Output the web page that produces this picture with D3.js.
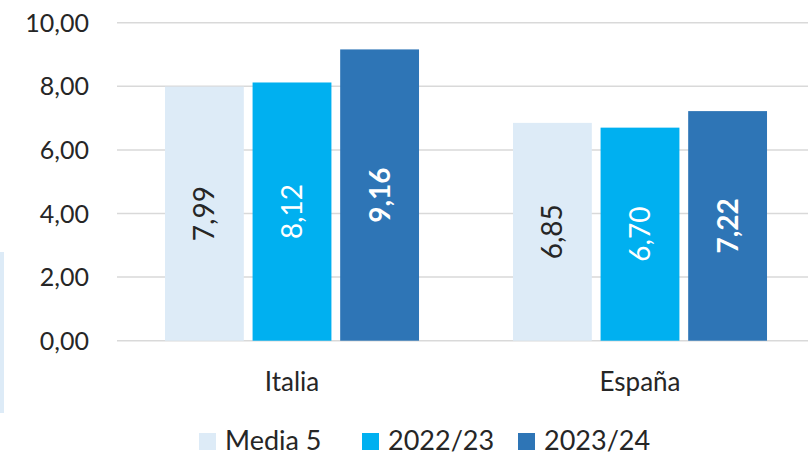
<!DOCTYPE html>
<html>
<head>
<meta charset="utf-8">
<script src="https://cdn.jsdelivr.net/npm/d3@7"></script>
<style>
  html, body { margin: 0; padding: 0; background: #fff; }
  svg { display: block; }
  text { font-family: Lato, "Open Sans", sans-serif; fill: #262626; }
</style>
</head>
<body>
<script>
// Data
const categories = ["Italia", "España"];
const seriesNames = ["Media 5", "2022/23", "2023/24"];
const mediaValues = [7.99, 6.85];
const y2223Values = [8.12, 6.70];
const y2324Values = [9.16, 7.22];
const yTicks = [0, 2, 4, 6, 8, 10];

const seriesColors = ["#DDEBF7", "#00B0F0", "#2E75B6"];
const labelColors = ["#262626", "#ffffff", "#ffffff"];
const labelWeights = ["normal", "normal", "bold"];

const seriesValues = [mediaValues, y2223Values, y2324Values];

const W = 808, H = 456;
const svg = d3.select("body").append("svg").attr("width", W).attr("height", H);

const fmt = v => d3.format(".2f")(v).replace(".", ",");

// Scales
const x = d3.scaleBand().domain(categories).range([118, 814]).paddingInner(0.27).paddingOuter(0.135);
const xs = d3.scaleBand().domain(seriesNames).range([0, x.bandwidth()]).paddingInner(0.1);
const y = d3.scaleLinear().domain([0, 10]).range([340.7, 22.7]);

// Gridlines
svg.append("g").selectAll("line").data(yTicks).join("line")
  .attr("x1", 117).attr("x2", W)
  .attr("y1", d => y(d)).attr("y2", d => y(d))
  .attr("stroke", "#d9d9d9").attr("stroke-width", 1.5);

// Y axis labels
svg.append("g").selectAll("text").data(yTicks).join("text")
  .attr("x", 89).attr("y", d => y(d))
  .attr("dy", "0.36em")
  .attr("text-anchor", "end")
  .style("font-size", "25px")
  .text(d => fmt(d));

// Bars
const groups = svg.append("g").selectAll("g").data(categories).join("g")
  .attr("transform", d => `translate(${x(d)},0)`);

groups.each(function(cat, ci) {
  const g = d3.select(this);
  seriesNames.forEach((s, si) => {
    const v = seriesValues[si][ci];
    const bx = xs(s), bw = xs.bandwidth();
    g.append("rect")
      .attr("x", bx).attr("width", bw)
      .attr("y", y(v)).attr("height", y(0) - y(v))
      .attr("fill", seriesColors[si]);
    const cx = bx + bw / 2, cy = (y(v) + y(0)) / 2;
    g.append("text")
      .attr("transform", `translate(${cx},${cy}) rotate(-90)`)
      .attr("text-anchor", "middle")
      .attr("dy", "0.36em")
      .style("font-size", "28px")
      .style("font-weight", labelWeights[si])
      .style("fill", labelColors[si])
      .text(fmt(v));
  });
});

// Category labels
svg.append("g").selectAll("text").data(categories).join("text")
  .attr("x", d => x(d) + x.bandwidth() / 2)
  .attr("y", 391)
  .attr("text-anchor", "middle")
  .style("font-size", "26px")
  .text(d => d);

// Legend
const legendX = [199, 362, 518];
const legend = svg.append("g").selectAll("g").data(seriesNames).join("g")
  .attr("transform", (d, i) => `translate(${legendX[i]},0)`);
legend.append("rect")
  .attr("x", 0).attr("y", 433).attr("width", 17).attr("height", 17)
  .attr("fill", (d, i) => seriesColors[i]);
legend.append("text")
  .attr("x", 26).attr("y", 450)
  .style("font-size", "27px")
  .text(d => d);

// Thin pale strip at the left edge
svg.append("rect")
  .attr("x", 0).attr("y", 252).attr("width", 4).attr("height", 161)
  .attr("fill", "#DDEBF7");
</script>
</body>
</html>
